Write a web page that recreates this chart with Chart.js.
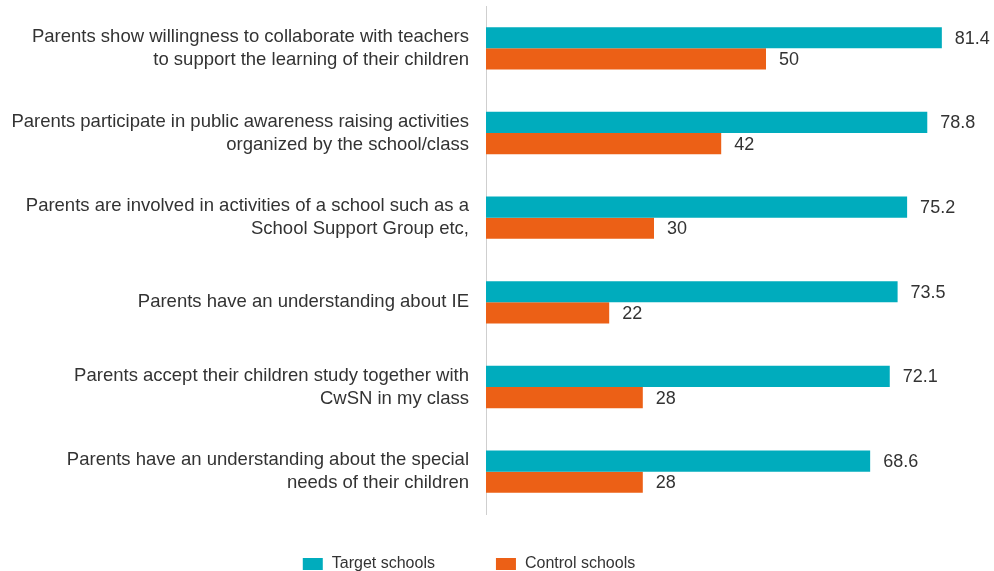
<!DOCTYPE html>
<html>
<head>
<meta charset="utf-8">
<script src="https://cdn.jsdelivr.net/npm/chart.js@4"></script>
<style>
    html, body { margin: 0; padding: 0; background: #fff; }
    #wrap { width: 994px; height: 571px; position: relative; }
</style>
</head>
<body>
<div id="wrap"><canvas id="parentsChart"></canvas></div>
<script>
// Survey items (multi-line labels) and percentages per school group
const categories = [
    ['Parents show willingness to collaborate with teachers', 'to support the learning of their children'],
    ['Parents participate in public awareness raising activities', 'organized by the school/class'],
    ['Parents are involved in activities of a school such as a', 'School Support Group etc,'],
    'Parents have an understanding about IE',
    ['Parents accept their children study together with', 'CwSN in my class'],
    ['Parents have an understanding about the special', 'needs of their children']
];
const targetSchools = [81.4, 78.8, 75.2, 73.5, 72.1, 68.6];
const controlSchools = [50, 42, 30, 22, 28, 28];
const seriesNames = ['Target schools', 'Control schools'];

const TEAL = '#00acbd';
const ORANGE = '#ec6016';
const TEXT = '#333333';
const FONT = '"Liberation Sans", Arial, sans-serif';

// Value labels to the right of each bar
const valueLabels = {
    id: 'valueLabels',
    afterDatasetsDraw(chart) {
        const ctx = chart.ctx;
        ctx.save();
        ctx.font = '18px ' + FONT;
        ctx.fillStyle = TEXT;
        ctx.textAlign = 'left';
        ctx.textBaseline = 'middle';
        chart.data.datasets.forEach((ds, i) => {
            chart.getDatasetMeta(i).data.forEach((bar, j) => {
                ctx.fillText(String(ds.data[j]), bar.x + 13, bar.y + 1);
            });
        });
        ctx.restore();
    }
};

// Legend along the bottom edge
const bottomLegend = {
    id: 'bottomLegend',
    afterDraw(chart) {
        const ctx = chart.ctx;
        ctx.save();
        ctx.font = '16px ' + FONT;
        const boxW = 20, boxH = 12, gap = 9, spacing = 61;
        const items = chart.data.datasets.map(ds => ({
            text: ds.label, color: ds.backgroundColor, w: ctx.measureText(ds.label).width
        }));
        let total = 0;
        items.forEach((it, i) => { total += boxW + gap + it.w + (i ? spacing : 0); });
        let x = 469 - total / 2;
        const top = 558;
        items.forEach(it => {
            ctx.fillStyle = it.color;
            ctx.fillRect(x, top, boxW, boxH);
            ctx.fillStyle = TEXT;
            ctx.textAlign = 'left';
            ctx.textBaseline = 'middle';
            ctx.fillText(it.text, x + boxW + gap, top + boxH / 2);
            x += boxW + gap + it.w + spacing;
        });
        ctx.restore();
    }
};

new Chart(document.getElementById('parentsChart'), {
    type: 'bar',
    data: {
        labels: categories,
        datasets: [
            { label: seriesNames[0], data: targetSchools, backgroundColor: TEAL },
            { label: seriesNames[1], data: controlSchools, backgroundColor: ORANGE }
        ]
    },
    options: {
        indexAxis: 'y',
        responsive: true,
        maintainAspectRatio: false,
        animation: false,
        datasets: {
            bar: { categoryPercentage: 0.5, barPercentage: 1.0 }
        },
        layout: {
            padding: { top: 6, right: 4, bottom: 57, left: 0 }
        },
        plugins: {
            legend: { display: false },
            tooltip: { enabled: false }
        },
        scales: {
            x: {
                display: false,
                min: 0,
                max: 90
            },
            y: {
                grid: { display: false, drawTicks: false },
                border: { display: true, color: '#cfcfcf', width: 1 },
                ticks: {
                    color: TEXT,
                    padding: 17,
                    font: { family: FONT, size: 18.5, lineHeight: 1.25 }
                },
                afterFit(scale) {
                    scale.width = 486;
                    // labels sit inside their bands, no extra room needed above/below
                    scale.paddingTop = 0;
                    scale.paddingBottom = 0;
                }
            }
        }
    },
    plugins: [valueLabels, bottomLegend]
});
</script>
</body>
</html>
